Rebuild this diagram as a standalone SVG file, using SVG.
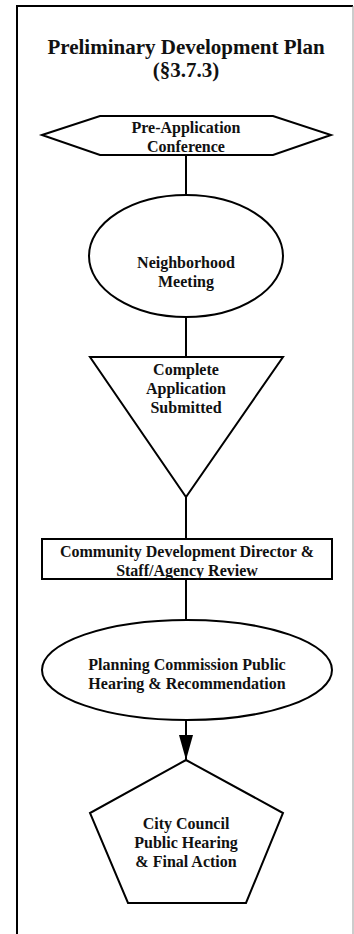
<svg xmlns="http://www.w3.org/2000/svg" width="354" height="934" viewBox="0 0 354 934">
<style>
.s{fill:#fff;stroke:#000;stroke-width:2}
.t{font-family:"Liberation Serif","Times New Roman",serif;font-weight:bold;font-size:16px;fill:#111;text-anchor:middle}
.title{font-size:21px}
.c{stroke:#000;stroke-width:2;fill:none}
</style>
<defs>
<marker id="arr" viewBox="0 0 25 14" refX="25" refY="7" markerWidth="25" markerHeight="14" orient="auto" markerUnits="userSpaceOnUse">
<path d="M0,0 L25,7 L0,14 z" fill="#000"/>
</marker>
</defs>
<rect width="354" height="934" fill="#fff"/>
<g id="frame">
<path d="M17,934 V6 H353" fill="none" stroke="#000" stroke-width="2"/>
<line x1="353" y1="6" x2="353" y2="934" stroke="#999" stroke-width="1"/>
</g>
<g id="title">
<text class="t title" x="186" y="54">Preliminary Development Plan</text>
<text class="t title" x="186" y="77">(§3.7.3)</text>
</g>
<g id="connectors">
<line class="c" x1="186" y1="155" x2="186" y2="195"/>
<line class="c" x1="186" y1="317" x2="186" y2="357"/>
<line class="c" x1="186" y1="497" x2="186" y2="539"/>
<line class="c" x1="186" y1="579" x2="186" y2="620"/>
<line class="c" x1="186" y1="720" x2="186" y2="760" marker-end="url(#arr)"/>
</g>
<g id="pre-application">
<polygon class="s" points="42,135 100,116 273,116 331,135 273,155 100,155"/>
<text class="t" x="186" y="133">Pre-Application</text>
<text class="t" x="186" y="152">Conference</text>
</g>
<g id="neighborhood-meeting">
<ellipse class="s" cx="186" cy="256" rx="97" ry="61"/>
<text class="t" x="186" y="268">Neighborhood</text>
<text class="t" x="186" y="287">Meeting</text>
</g>
<g id="complete-application">
<polygon class="s" points="90,357 283,357 186,497"/>
<text class="t" x="186" y="375">Complete</text>
<text class="t" x="186" y="394">Application</text>
<text class="t" x="186" y="413">Submitted</text>
</g>
<g id="staff-review">
<rect class="s" x="42" y="539" width="290" height="40"/>
<text class="t" x="187" y="557">Community Development Director &amp;</text>
<text class="t" x="187" y="576">Staff/Agency Review</text>
</g>
<g id="planning-commission">
<ellipse class="s" cx="187" cy="670" rx="145" ry="50"/>
<text class="t" x="187" y="670">Planning Commission Public</text>
<text class="t" x="187" y="689">Hearing &amp; Recommendation</text>
</g>
<g id="city-council">
<polygon class="s" points="186,760 283,813 246,903 128,903 90,813"/>
<text class="t" x="186" y="829">City Council</text>
<text class="t" x="186" y="848">Public Hearing</text>
<text class="t" x="186" y="867">&amp; Final Action</text>
</g>
</svg>
